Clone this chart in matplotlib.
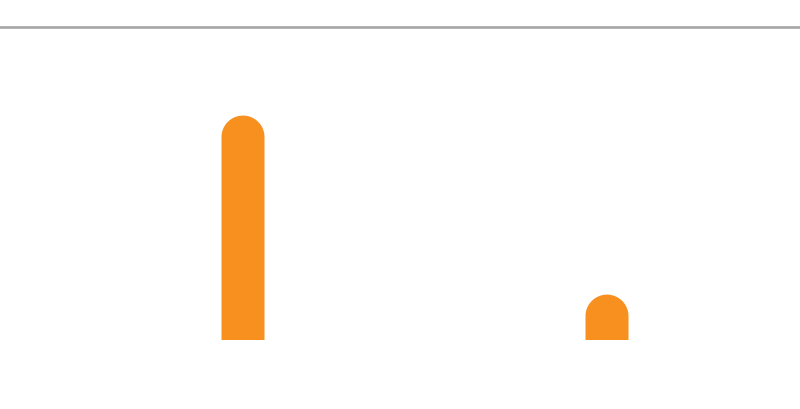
import matplotlib
matplotlib.use("Agg")
import numpy as np
import matplotlib.pyplot as plt
from matplotlib.patches import Polygon
from matplotlib.lines import Line2D

categories = ["A", "B"]
values = [71.7, 14.5]

W, H, DPI = 800, 410, 100
fig = plt.figure(figsize=(W / DPI, H / DPI), dpi=DPI)
left_px, right_px, bottom_px, top_px = 61, 789, 341, 28
ax = fig.add_axes([left_px / W, (H - bottom_px) / H, (right_px - left_px) / W, (bottom_px - top_px) / H])
ax.set_xlim(-0.5, len(categories) - 0.5)
ax.set_ylim(0, 100)
ax.axis("off")

color = "#F7901E"
bar_w = 43 / ((right_px - left_px) / len(categories))
px_per_y = (bottom_px - top_px) / 100.0
r_data = 21.5 / px_per_y

t = np.linspace(0, np.pi, 60)
for i, v in enumerate(values):
    cy = v - r_data
    xs = [i - bar_w / 2] + list(i + (bar_w / 2) * np.cos(np.pi - t)) + [i + bar_w / 2]
    ys = [0] + list(cy + r_data * np.sin(np.pi - t)) + [0]
    ax.add_patch(Polygon(np.column_stack([xs, ys]), closed=True,
                         facecolor=color, edgecolor="none"))

fig.add_artist(Line2D([0, 1], [(H - 28) / H, (H - 28) / H], color="#a6a6a6",
                      linewidth=1.9, transform=fig.transFigure))

fig.savefig("out.png", dpi=DPI)
